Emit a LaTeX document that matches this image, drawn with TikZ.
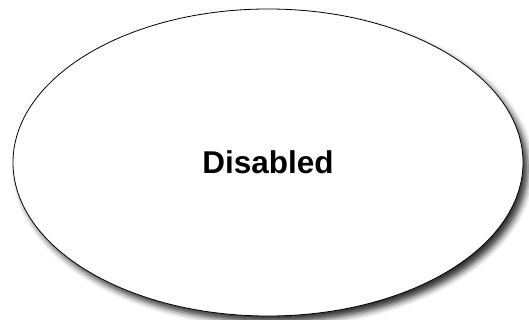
\documentclass[tikz,border=0pt]{standalone}
\usepackage{fontspec}
\setmainfont{Liberation Sans}
\usetikzlibrary{shapes.geometric,shadows.blur}
\tikzset{
  statebox/.style={ellipse, draw=black, line width=0.8pt, fill=white,
    minimum width=510pt, minimum height=307pt, inner sep=0pt,
    blur shadow={shadow xshift=5pt, shadow yshift=-6pt, shadow blur radius=6pt, shadow opacity=80},
    font=\fontsize{31.5}{37}\selectfont\bfseries}
}
\begin{document}
\begin{tikzpicture}[x=1pt,y=1pt]
\useasboundingbox (0,0) rectangle (529,-320);
\node[statebox] (disabled) at (268,-162.5) {Disabled};
\end{tikzpicture}
\end{document}
